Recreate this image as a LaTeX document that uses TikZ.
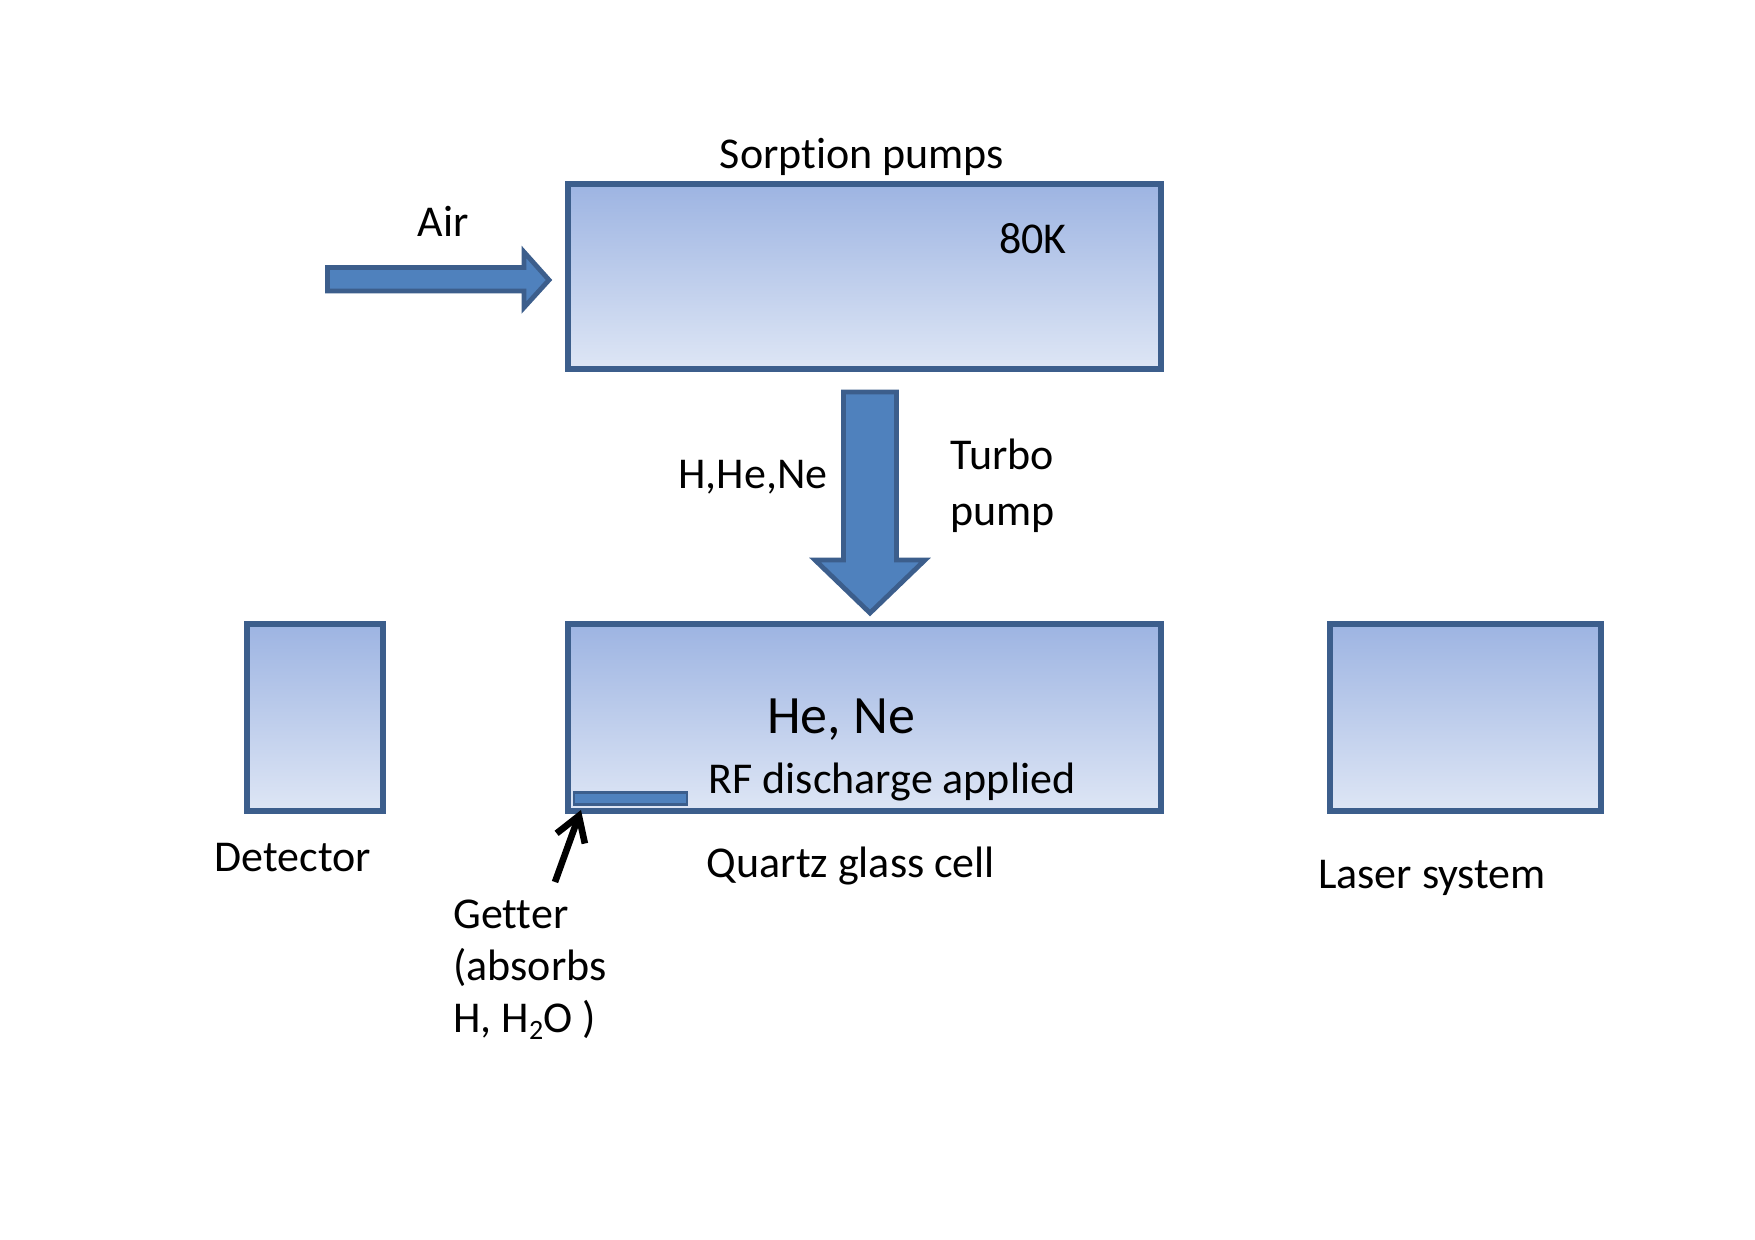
\documentclass[tikz,border=0pt]{standalone}
\usepackage{fontspec}
\setmainfont{Carlito}[Ligatures=NoCommon]
\usetikzlibrary{arrows.meta}
\definecolor{bordc}{RGB}{60,94,140}
\definecolor{topc}{RGB}{157,180,226}
\definecolor{botc}{RGB}{222,230,245}
\definecolor{arrc}{RGB}{79,129,189}
\newcommand{\lowsub}[1]{\raisebox{-0.3ex}{\fontsize{14}{16}\selectfont #1}}
\begin{document}
\begin{tikzpicture}[x=0.5pt,y=-0.5pt,
  box/.style={draw=bordc,line width=3pt,top color=topc,bottom color=botc,inner sep=0pt,anchor=north west},
  blockarrow/.style={draw=bordc,line width=2.4pt,fill=arrc,line join=miter},
  lbl/.style={font=\fontsize{22}{26}\selectfont,inner sep=0pt}]
\useasboundingbox (0,0) rectangle (1755,1240);
% boxes
\node[box,minimum width=296.5pt,minimum height=92.5pt] (sorp) at (565,181) {};
\node[box,minimum width=296.5pt,minimum height=93.5pt] (cell) at (565,621) {};
\node[box,minimum width=67.8pt,minimum height=93.5pt] (det) at (244,621) {};
\node[box,minimum width=135.5pt,minimum height=93.5pt] (laser) at (1327,621) {};
% getter
\node[draw=bordc,line width=1.3pt,fill=arrc,minimum width=56.5pt,minimum height=6pt,inner sep=0pt,anchor=south west] (getter) at (572.5,806) {};
% air arrow
\draw[blockarrow] (327.5,267.5) -- (524,267.5) -- (524,252) -- (549,280) -- (524,307.5) -- (524,291) -- (327.5,291) -- cycle;
% turbo arrow
\draw[blockarrow] (843.5,392) -- (896.5,392) -- (896.5,560) -- (925,560) -- (870,613) -- (815,560) -- (843.5,560) -- cycle;
% getter pointer
\coordinate (gfoot) at (555,882);
\coordinate (gtip) at (581,810);
\draw[line width=3.3pt,-{Straight Barb[length=12pt,width=15pt,line width=3.3pt]}] (gfoot) -- (gtip);
% texts
\node[lbl] (tsorp) at (862,157) {Sorption pumps};
\node[lbl] (tair) at (443,221) {Air};
\node[lbl] (t80) at (1033,239) {80K};
\node[lbl] (thhe) at (753,477) {H,He,Ne};
\node[lbl,anchor=west,align=left] (tturbo) at (950,486) {Turbo\\[2pt]pump};
\node[inner sep=0pt,font=\fontsize{27}{32}\selectfont] (thene) at (841,720) {He, Ne};
\node[lbl] (trf) at (892,782) {RF discharge applied};
\node[lbl] (tdet) at (293,858) {Detector};
\node[lbl] (tquartz) at (851,866) {Quartz glass cell};
\node[lbl] (tlaser) at (1432,878) {Laser system};
\node[lbl,anchor=north west,align=left] (tget) at (453,900) {Getter\\(absorbs\\H, H\lowsub{2}O )};
\end{tikzpicture}
\end{document}
